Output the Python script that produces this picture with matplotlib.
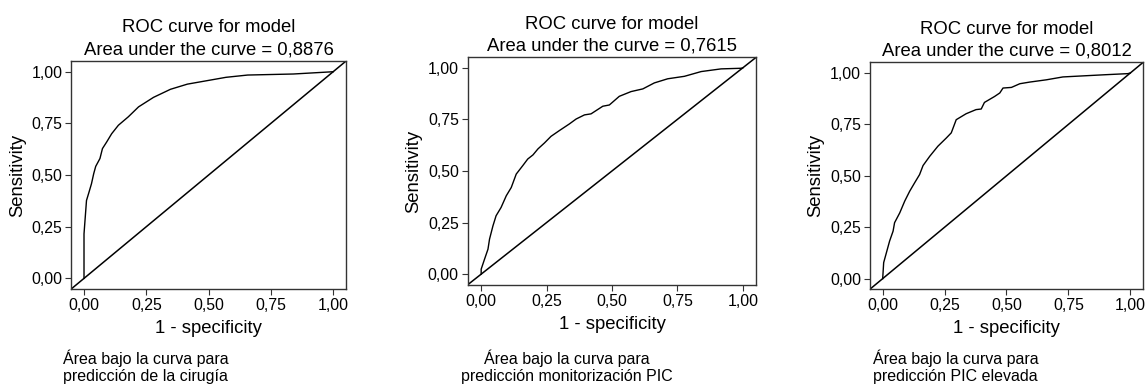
import matplotlib.pyplot as plt

plt.rcParams['font.family'] = ['Liberation Sans', 'DejaVu Sans']

# ----- data -----
fpr_cir = [0.0, 0.0, 0.003, 0.01, 0.02, 0.03, 0.039, 0.047, 0.064, 0.074, 0.091, 0.111,
           0.138, 0.178, 0.219, 0.279, 0.347, 0.415, 0.509, 0.57, 0.657, 0.84, 1.0]
tpr_cir = [0.0, 0.215, 0.264, 0.377, 0.417, 0.458, 0.507, 0.542, 0.58, 0.628, 0.66, 0.70,
           0.741, 0.782, 0.83, 0.876, 0.915, 0.94, 0.96, 0.973, 0.984, 0.989, 1.0]

fpr_mon = [0.0, 0.0, 0.013, 0.026, 0.032, 0.045, 0.057, 0.076, 0.096, 0.115, 0.134, 0.159,
           0.178, 0.198, 0.217, 0.242, 0.267, 0.299, 0.337, 0.363, 0.395, 0.42, 0.465,
           0.49, 0.528, 0.573, 0.618, 0.662, 0.713, 0.777, 0.841, 0.917, 0.994, 1.0]
tpr_mon = [0.0, 0.024, 0.073, 0.121, 0.17, 0.234, 0.283, 0.323, 0.38, 0.42, 0.485, 0.526,
           0.558, 0.578, 0.607, 0.636, 0.668, 0.696, 0.728, 0.752, 0.772, 0.777, 0.814,
           0.82, 0.862, 0.885, 0.898, 0.927, 0.947, 0.959, 0.982, 0.995, 0.998, 1.0]

fpr_pic = [0.0, 0.004, 0.015, 0.028, 0.042, 0.048, 0.069, 0.089, 0.109, 0.129, 0.149, 0.163,
           0.19, 0.223, 0.257, 0.277, 0.297, 0.337, 0.377, 0.398, 0.411, 0.452, 0.473,
           0.486, 0.52, 0.554, 0.594, 0.661, 0.728, 0.823, 0.903, 0.99, 1.0]
tpr_pic = [0.0, 0.078, 0.126, 0.183, 0.231, 0.272, 0.32, 0.377, 0.425, 0.466, 0.506, 0.55,
           0.595, 0.644, 0.684, 0.709, 0.773, 0.802, 0.822, 0.825, 0.857, 0.886, 0.903,
           0.927, 0.93, 0.948, 0.956, 0.967, 0.981, 0.987, 0.992, 0.997, 1.0]

aucs = ['0,8876', '0,7615', '0,8012']
captions = ['Área bajo la curva para\npredicción de la cirugía',
            'Área bajo la curva para\npredicción monitorización PIC',
            'Área bajo la curva para\npredicción PIC elevada']
ticks = [0, 0.25, 0.5, 0.75, 1.0]
tick_labels = ['0,00', '0,25', '0,50', '0,75', '1,00']

curves = [(fpr_cir, tpr_cir), (fpr_mon, tpr_mon), (fpr_pic, tpr_pic)]

fig = plt.figure(figsize=(11.46, 3.86), dpi=100)

boxes = [[0.062, 0.251, 0.240, 0.591],
         [0.408, 0.262, 0.252, 0.590],
         [0.759, 0.2505, 0.2385, 0.588]]
# caption anchors
cap_pos = [(0.055, 'left'), (0.4948, 'center'), (0.762, 'left')]

lim = (-0.052, 1.052)

for i in range(3):
    ax = fig.add_axes(boxes[i])
    fpr, tpr = curves[i]
    ax.plot(fpr, tpr, color='black', lw=1.0)
    ax.plot(lim, lim, color='black', lw=1.1)
    ax.set_xlim(lim)
    ax.set_ylim(lim)
    ax.set_xticks(ticks)
    ax.set_xticklabels(tick_labels)
    ax.set_yticks(ticks)
    ax.set_yticklabels(tick_labels)
    ax.tick_params(direction='out', length=4.3, width=0.8, pad=2, labelsize=11.4,
                   color='#333333')
    for sp in ax.spines.values():
        sp.set_color('#333333')
        sp.set_linewidth(1.0)
    ax.set_xlabel('1 - specificity', fontsize=13.3, labelpad=5)
    ax.set_ylabel('Sensitivity', fontsize=13.3, labelpad=4)
    ax.set_title('ROC curve for model\nArea under the curve = ' + aucs[i],
                 fontsize=13.3, pad=5, linespacing=1.35)
    x, ha = cap_pos[i]
    fig.text(x, 0.013, captions[i], ha=ha, va='baseline', multialignment=ha,
             fontsize=11.5, linespacing=1.15)

plt.savefig('out.png', dpi=100)
